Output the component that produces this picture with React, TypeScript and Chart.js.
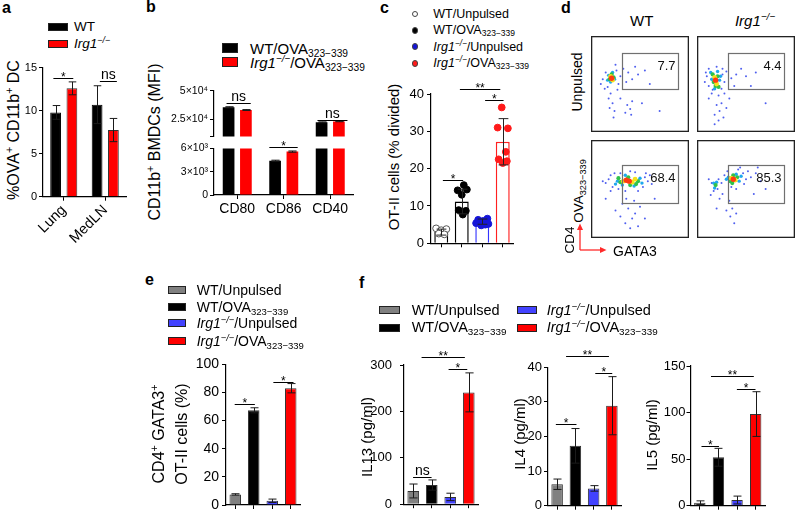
import React, { useEffect, useRef } from 'react';
import { Chart, registerables } from 'chart.js';
Chart.register(...registerables);

const FONT = 'Arial, "Liberation Sans", Helvetica, sans-serif';

// ---------- panel a ----------
const aCategories = ['Lung', 'MedLN'];
const aWT = [9.8, 10.7];
const aWTErr = [0.8, 2.2];
const aKO = [12.6, 7.75];
const aKOErr = [0.75, 1.35];

// ---------- panel b ----------
const bCategories = ['CD80', 'CD86', 'CD40'];
const bWT = [35500, 4420, 22400];
const bWTErr = [500, 70, 400];
const bKO = [33100, 5600, 23200];
const bKOErr = [400, 80, 300];
const bUpperTicks = [10000, 25000, 50000];
const bUpperLabels = ['', '2.5×10⁴', '5×10⁴'];
const bLowerTicks = [0, 3000, 6000];
const bLowerLabels = ['0', '3×10³', '6×10³'];

// ---------- panel c ----------
const cGroups = ['WT/Unpulsed', 'WT/OVA323−339', 'Irg1−/−/Unpulsed', 'Irg1−/−/OVA323−339'];
const cMeans = [3.0, 11.2, 5.8, 27.2];
const cErr = [0.8, 3.3, 0.7, 6.2];
const cPtsWTUnp = [4.0, 3.5, 3.8, 2.6, 2.4];
const cJitWTUnp = [-0.25, 0.0, 0.25, -0.12, 0.15];
const cPtsWTOva = [15.6, 14.2, 14.4, 13.0, 8.9, 8.7, 7.7];
const cJitWTOva = [0.1, -0.2, 0.25, 0.0, -0.15, 0.2, 0.05];
const cPtsKOUnp = [6.6, 6.3, 6.0, 5.4, 5.0, 4.8, 5.2];
const cJitKOUnp = [0.25, -0.2, 0.05, -0.3, 0.15, -0.05, 0.3];
const cPtsKOOva = [36.4, 31.0, 30.8, 24.5, 22.5, 21.5, 22.0];
const cJitKOOva = [-0.05, -0.25, 0.25, 0.15, -0.2, 0.0, 0.2];

// ---------- panel d (x, y in % of plot, density level) ----------
type Pt = [number, number, number];
const dWTUnpulsed: Pt[] = [
  [21, 56, 4], [20, 58, 3], [22, 54, 3], [19, 55, 2], [23, 57, 2], [21, 60, 2], [20, 52, 1], [24, 55, 1], [18, 59, 1], [22, 62, 1], [17, 54, 1],
  [15, 62, 0], [26, 64, 0], [12, 55, 0], [28, 50, 0], [17, 47, 0], [30, 58, 0], [33, 66, 0], [38, 62, 0], [42, 55, 0], [45, 68, 0], [36, 52, 0],
  [25, 70, 0], [10, 50, 0], [14, 45, 0], [27, 44, 0], [20, 40, 0], [22, 30, 0], [19, 25, 0], [24, 22, 0], [37, 28, 0], [40, 24, 0], [35, 20, 0],
  [42, 32, 0], [30, 35, 0], [48, 60, 0], [55, 64, 0], [60, 50, 0], [52, 30, 0], [70, 22, 0], [18, 35, 0], [41, 18, 0], [23, 15, 0],
];
const dKOUnpulsed: Pt[] = [
  [19, 54, 4], [18, 57, 3], [20, 50, 3], [17, 52, 2], [21, 58, 2], [16, 60, 2], [22, 47, 2], [19, 48, 2], [15, 55, 1], [23, 54, 1], [18, 45, 1],
  [14, 62, 1], [21, 63, 1], [24, 58, 1],
  [10, 58, 0], [8, 52, 0], [12, 48, 0], [26, 60, 0], [28, 52, 0], [25, 45, 0], [12, 66, 0], [20, 68, 0], [30, 63, 0], [35, 56, 0], [40, 60, 0],
  [45, 66, 0], [50, 58, 0], [38, 48, 0], [15, 40, 0], [22, 38, 0], [25, 30, 0], [20, 28, 0], [23, 22, 0], [27, 15, 0], [18, 18, 0], [30, 25, 0],
  [55, 48, 0], [60, 62, 0], [33, 35, 0], [12, 35, 0], [70, 30, 0], [26, 66, 0], [16, 44, 0], [28, 40, 0], [22, 12, 0], [18, 8, 0], [9, 62, 0],
];
const dWTOva: Pt[] = [
  [39, 58, 4], [36, 59, 4], [42, 57, 3], [33, 58, 3], [45, 60, 3], [30, 57, 2], [48, 58, 2], [38, 62, 2], [40, 54, 2], [28, 61, 2], [46, 55, 2],
  [27, 58, 1], [50, 61, 1], [35, 64, 1], [44, 53, 1], [25, 55, 1], [52, 56, 1], [32, 54, 1],
  [18, 60, 0], [15, 56, 0], [20, 64, 0], [22, 52, 0], [55, 62, 0], [58, 58, 0], [30, 66, 0], [45, 67, 0], [53, 52, 0], [28, 50, 0], [12, 58, 0],
  [60, 64, 0], [35, 48, 0], [48, 48, 0], [62, 55, 0], [20, 48, 0], [32, 35, 0], [38, 30, 0], [42, 20, 0], [35, 15, 0], [45, 25, 0], [30, 22, 0],
  [50, 32, 0], [40, 10, 0], [25, 28, 0], [48, 12, 0], [55, 20, 0], [65, 40, 0], [15, 40, 0], [24, 66, 0], [40, 68, 0], [56, 66, 0], [36, 40, 0], [44, 38, 0],
];
const dKOOva: Pt[] = [
  [37, 60, 4], [35, 61, 3], [39, 59, 3], [34, 58, 2], [41, 62, 2], [37, 64, 2], [36, 56, 2], [19, 54, 2], [32, 62, 1], [43, 58, 1], [18, 51, 1],
  [20, 57, 1], [30, 60, 1], [45, 63, 1], [40, 65, 1], [17, 56, 1],
  [17, 48, 0], [21, 50, 0], [15, 56, 0], [22, 60, 0], [25, 56, 0], [28, 64, 0], [47, 66, 0], [50, 60, 0], [52, 68, 0], [42, 70, 0], [55, 62, 0],
  [60, 66, 0], [65, 58, 0], [48, 55, 0], [26, 45, 0], [12, 60, 0], [35, 52, 0], [40, 50, 0], [33, 38, 0], [36, 30, 0], [34, 22, 0], [38, 15, 0],
  [30, 28, 0], [40, 25, 0], [20, 30, 0], [70, 50, 0], [58, 45, 0], [14, 44, 0], [23, 40, 0], [44, 72, 0], [62, 72, 0], [31, 68, 0],
];
const dGateTop = [31.5, 89, 45, 82.5];
const dGateBottom = [32, 89, 35.7, 74.2];
const dGateValues = ['7.7', '4.4', '68.4', '85.3'];

// ---------- panel e ----------
const eMeans = [7.5, 67.3, 3.0, 83.0];
const eErr = [0.5, 1.8, 1.2, 3.3];

// ---------- panel f ----------
const il13Means = [28.5, 41.3, 15.7, 241];
const il13Err = [15, 11, 8, 42];
const il4Means = [6.2, 17.3, 5.0, 28.9];
const il4Err = [1.5, 5.0, 0.8, 8.4];
const il5Means = [3.2, 52, 6.1, 98.4];
const il5Err = [2.0, 9.6, 4.2, 24.0];

const GROUP_FILL = ['#808080', '#000000', '#4242ff', '#ff0000'];
const DENS_COLORS = ['rgba(35,55,235,0.8)', '#1fa8ee', '#2fc24a', '#f3e21c', '#ff3b12'];
const DENS_RADIUS = [1.0, 1.7, 2.1, 2.4, 2.7];

type Box = { left: number; top: number; width: number; height: number };
type Plot = { left: number; top: number; right: number; bottom: number };
type Sig = { from: number; to: number; y: number; label: string };

const errorBarPlugin = {
  id: 'errbars',
  afterDatasetsDraw(chart: any) {
    const { ctx } = chart;
    chart.data.datasets.forEach((ds: any, i: number) => {
      if (!ds.errors) return;
      const meta = chart.getDatasetMeta(i);
      const ys = chart.scales[meta.yAxisID];
      meta.data.forEach((el: any, j: number) => {
        const v = ds.data[j];
        const e = ds.errors[j];
        if (v == null || e == null || v < ys.min || v > ys.max) return;
        const x = Math.round(el.x) + 0.5;
        const w = el.width * 0.7;
        const yt = ys.getPixelForValue(v + e);
        const yb = ys.getPixelForValue(v - e);
        ctx.save();
        ctx.strokeStyle = ds.errorColor || '#1a1a1a';
        ctx.lineWidth = 1;
        ctx.beginPath();
        ctx.moveTo(x, yt); ctx.lineTo(x, yb);
        ctx.moveTo(x - w / 2, yt); ctx.lineTo(x + w / 2, yt);
        ctx.moveTo(x - w / 2, yb); ctx.lineTo(x + w / 2, yb);
        ctx.stroke();
        ctx.restore();
      });
    });
  },
};

function sigPlugin(items: Sig[]) {
  return {
    id: 'sig',
    afterDraw(chart: any) {
      const { ctx } = chart;
      const xs = chart.scales.x;
      const ys = chart.scales.y;
      items.forEach((it) => {
        const x1 = xs.getPixelForValue(it.from);
        const x2 = xs.getPixelForValue(it.to);
        const y = Math.round(ys.getPixelForValue(it.y)) + 0.5;
        ctx.save();
        ctx.strokeStyle = '#000';
        ctx.lineWidth = 1;
        ctx.beginPath(); ctx.moveTo(x1, y); ctx.lineTo(x2, y); ctx.stroke();
        ctx.fillStyle = '#000';
        ctx.textAlign = 'center';
        ctx.textBaseline = 'alphabetic';
        if (it.label === 'ns') {
          ctx.font = `14px ${FONT}`;
          ctx.fillText('ns', (x1 + x2) / 2, y - 2.5);
        } else {
          ctx.font = `12px ${FONT}`;
          ctx.fillText(it.label, (x1 + x2) / 2, y + 2);
        }
        ctx.restore();
      });
    },
  };
}

interface BarSpec {
  box: Box; plot: Plot; labels: string[]; datasets: any[];
  yMin: number; yMax: number; yStep?: number; yTicks?: number[]; yTickLabels?: string[];
  tickSize: number; tickPad?: number; xLabelSize?: number; showXLabels?: boolean; rotate?: number; xPad?: number;
  catPct: number; barPct: number; sig: Sig[]; showXAxis?: boolean;
}

function barChart(canvas: HTMLCanvasElement, s: BarSpec) {
  const padTop = s.plot.top - s.box.top;
  const padRight = s.box.left + s.box.width - s.plot.right;
  const yW = s.plot.left - s.box.left;
  const xH = s.box.top + s.box.height - s.plot.bottom;
  const showX = s.showXAxis !== false;
  const yTicks = s.yTicks;
  const yLabels = s.yTickLabels;
  return new Chart(canvas, {
    type: 'bar',
    data: {
      labels: s.labels,
      datasets: s.datasets.map((d) => ({ categoryPercentage: s.catPct, barPercentage: s.barPct, ...d })),
    },
    options: {
      responsive: false,
      animation: false,
      events: [],
      layout: { padding: { top: padTop, right: padRight, left: 0, bottom: 0 } },
      plugins: { legend: { display: false }, tooltip: { enabled: false } },
      scales: {
        x: {
          offset: true,
          grid: { display: showX, offset: false, drawOnChartArea: false, drawTicks: true, tickLength: 4, color: '#000', lineWidth: 1 },
          border: { display: showX, color: '#000', width: 1.2 },
          ticks: {
            display: !!s.showXLabels, autoSkip: false, color: '#000',
            font: { family: FONT, size: s.xLabelSize || 13 },
            maxRotation: s.rotate || 0, minRotation: s.rotate || 0, padding: s.xPad ?? 2,
          },
          afterFit: (sc: any) => { sc.height = xH; },
        },
        y: {
          min: s.yMin,
          max: s.yMax,
          grid: { display: true, drawOnChartArea: false, drawTicks: true, tickLength: 4, color: '#000', lineWidth: 1 },
          border: { display: true, color: '#000', width: 1.2 },
          ticks: {
            stepSize: s.yStep,
            color: '#000',
            padding: s.tickPad ?? 3,
            font: { family: FONT, size: s.tickSize },
            callback: (v: any) => {
              if (yTicks && yLabels) {
                const k = yTicks.indexOf(v);
                return k >= 0 ? yLabels[k] : '';
              }
              return String(v);
            },
          },
          afterBuildTicks: yTicks ? (sc: any) => { sc.ticks = yTicks.map((v) => ({ value: v })); } : undefined,
          afterFit: (sc: any) => { sc.width = yW; },
        },
      },
    } as any,
    plugins: [errorBarPlugin, sigPlugin(s.sig)],
  });
}

function gatePlugin(gate: number[], label: string) {
  return {
    id: 'gate',
    afterDraw(chart: any) {
      const { ctx, chartArea: a } = chart;
      const x = chart.scales.x;
      const y = chart.scales.y;
      const gx1 = Math.round(x.getPixelForValue(gate[0])) + 0.5;
      const gx2 = Math.round(x.getPixelForValue(gate[1])) + 0.5;
      const gy1 = Math.round(y.getPixelForValue(gate[3])) + 0.5;
      const gy2 = Math.round(y.getPixelForValue(gate[2])) + 0.5;
      ctx.save();
      ctx.strokeStyle = '#707070';
      ctx.lineWidth = 1.2;
      ctx.strokeRect(gx1, gy1, gx2 - gx1, gy2 - gy1);
      ctx.fillStyle = '#111';
      ctx.font = `13px ${FONT}`;
      ctx.textAlign = 'right';
      ctx.textBaseline = 'alphabetic';
      ctx.fillText(label, gx2 - 3, gy1 + 16);
      ctx.strokeStyle = '#222';
      ctx.lineWidth = 1.3;
      ctx.strokeRect(a.left + 0.65, a.top + 0.65, a.right - a.left - 1.3, a.bottom - a.top - 1.3);
      ctx.restore();
    },
  };
}

function flowChart(canvas: HTMLCanvasElement, pts: Pt[], gate: number[], label: string) {
  const datasets = [4, 3, 2, 1, 0].map((l) => ({
    type: 'scatter',
    data: pts.filter((p) => p[2] === l).map((p) => ({ x: p[0], y: p[1] })),
    backgroundColor: DENS_COLORS[l],
    borderWidth: 0,
    pointRadius: DENS_RADIUS[l],
  }));
  return new Chart(canvas, {
    type: 'scatter',
    data: { datasets } as any,
    options: {
      responsive: false,
      animation: false,
      events: [],
      layout: { padding: 0 },
      plugins: { legend: { display: false }, tooltip: { enabled: false } },
      scales: {
        x: { type: 'linear', min: 0, max: 100, display: false },
        y: { type: 'linear', min: 0, max: 100, display: false },
      },
    } as any,
    plugins: [gatePlugin(gate, label)],
  });
}

function ChartCanvas({ box, make }: { box: Box; make: (c: HTMLCanvasElement) => Chart }) {
  const ref = useRef<HTMLCanvasElement>(null);
  useEffect(() => {
    const chart = make(ref.current as HTMLCanvasElement);
    return () => chart.destroy();
  }, []);
  return (
    <canvas
      ref={ref}
      width={box.width}
      height={box.height}
      style={{ position: 'absolute', left: box.left, top: box.top, width: box.width, height: box.height }}
    />
  );
}

// ---------- chart makers ----------
const boxA: Box = { left: 0, top: 55, width: 135, height: 200 };
const makeA = (c: HTMLCanvasElement) => barChart(c, {
  box: boxA, plot: { left: 43, top: 67.7, right: 126, bottom: 196.7 },
  labels: aCategories,
  datasets: [
    { data: aWT, errors: aWTErr, backgroundColor: '#000', borderColor: '#000', borderWidth: 1 },
    { data: aKO, errors: aKOErr, backgroundColor: '#ff0000', borderColor: '#333', borderWidth: 1 },
  ],
  yMin: 0, yMax: 15, yStep: 5, tickSize: 11, tickPad: 2, showXLabels: true, xLabelSize: 14.5, rotate: 45, xPad: 1,
  catPct: 0.786, barPct: 0.66,
  sig: [{ from: -0.25, to: 0.23, y: 13.77, label: '*' }, { from: 0.87, to: 1.28, y: 13.45, label: 'ns' }],
});

const boxBU: Box = { left: 165, top: 75, width: 200, height: 72 };
const makeBU = (c: HTMLCanvasElement) => barChart(c, {
  box: boxBU, plot: { left: 214, top: 90.7, right: 353.5, bottom: 136.5 },
  labels: bCategories,
  datasets: [
    { data: bWT, errors: bWTErr, backgroundColor: '#000', borderWidth: 0, clip: 0 },
    { data: bKO, errors: bKOErr, backgroundColor: '#ff0000', borderWidth: 0, clip: 0 },
  ],
  yMin: 10000, yMax: 50000, yTicks: bUpperTicks, yTickLabels: bUpperLabels, tickSize: 10.5, tickPad: 2,
  showXAxis: false, catPct: 0.744, barPct: 0.676,
  sig: [{ from: -0.23, to: 0.29, y: 39000, label: 'ns' }, { from: 1.725, to: 2.37, y: 24600, label: 'ns' }],
});

const boxBL: Box = { left: 165, top: 125, width: 200, height: 95 };
const makeBL = (c: HTMLCanvasElement) => barChart(c, {
  box: boxBL, plot: { left: 214, top: 148.5, right: 353.5, bottom: 195 },
  labels: bCategories,
  datasets: [
    { data: bWT, errors: bWTErr, backgroundColor: '#000', borderWidth: 0, clip: 0 },
    { data: bKO, errors: bKOErr, backgroundColor: '#ff0000', borderWidth: 0, clip: 0 },
  ],
  yMin: 0, yMax: 6000, yTicks: bLowerTicks, yTickLabels: bLowerLabels, tickSize: 10.5, tickPad: 2,
  showXLabels: true, xLabelSize: 14, catPct: 0.744, barPct: 0.676,
  sig: [{ from: 0.69, to: 1.3, y: 6150, label: '*' }],
});

const boxC: Box = { left: 395, top: 70, width: 130, height: 190 };
// jittered dots are placed on the category axis by (fractional) category index
const cScatter = (pts: number[], jit: number[], idx: number, fill: string, stroke: string) => ({
  type: 'scatter', parsing: false, order: 1,
  data: pts.map((v, i) => ({ x: idx + jit[i], y: v })),
  backgroundColor: fill, borderColor: stroke, borderWidth: 1, pointRadius: 3.4,
});
const makeC = (c: HTMLCanvasElement) => barChart(c, {
  box: boxC, plot: { left: 431, top: 94, right: 513, bottom: 243.3 },
  labels: cGroups,
  datasets: [
    { data: cMeans, errors: cErr, order: 2, backgroundColor: '#fff', borderColor: ['#000', '#000', '#3434ff', '#ff2020'], borderWidth: 1.5, errorColor: '#222' },
    cScatter(cPtsWTUnp, cJitWTUnp, 0, '#ffffff', '#555555'),
    cScatter(cPtsWTOva, cJitWTOva, 1, '#000000', '#000000'),
    cScatter(cPtsKOUnp, cJitKOUnp, 2, '#1515d8', '#1515d8'),
    cScatter(cPtsKOOva, cJitKOOva, 3, '#ff1a1a', '#ff1a1a'),
  ],
  yMin: 0, yMax: 40, yStep: 10, tickSize: 13, tickPad: 3, catPct: 1, barPct: 0.68,
  sig: [
    { from: 0.08, to: 1.07, y: 17.0, label: '*' },
    { from: 0.91, to: 2.88, y: 41.3, label: '**' },
    { from: 2.14, to: 3.04, y: 38.4, label: '*' },
  ],
});

const groupBars = (means: number[], errs: number[]) => [
  { data: means, errors: errs, backgroundColor: GROUP_FILL, borderColor: '#333', borderWidth: 1 },
];

const boxE: Box = { left: 188, top: 345, width: 125, height: 175 };
const makeE = (c: HTMLCanvasElement) => barChart(c, {
  box: boxE, plot: { left: 226, top: 364.3, right: 300, bottom: 505 },
  labels: cGroups, datasets: groupBars(eMeans, eErr),
  yMin: 0, yMax: 100, yStep: 20, tickSize: 14, tickPad: 3, catPct: 1, barPct: 0.62,
  sig: [{ from: -0.03, to: 1.06, y: 71.6, label: '*' }, { from: 2.06, to: 3.15, y: 87.6, label: '*' }],
});

const boxIL13: Box = { left: 365, top: 340, width: 120, height: 180 };
const makeIL13 = (c: HTMLCanvasElement) => barChart(c, {
  box: boxIL13, plot: { left: 404, top: 365, right: 478, bottom: 505.7 },
  labels: cGroups, datasets: groupBars(il13Means, il13Err),
  yMin: 0, yMax: 300, yStep: 100, tickSize: 13, tickPad: 8, catPct: 1, barPct: 0.63,
  sig: [
    { from: -0.01, to: 0.99, y: 58.3, label: 'ns' },
    { from: 0.45, to: 2.79, y: 317, label: '**' },
    { from: 1.91, to: 2.92, y: 291, label: '*' },
  ],
});

const boxIL4: Box = { left: 505, top: 340, width: 125, height: 180 };
const makeIL4 = (c: HTMLCanvasElement) => barChart(c, {
  box: boxIL4, plot: { left: 548, top: 367.3, right: 621, bottom: 505.7 },
  labels: cGroups, datasets: groupBars(il4Means, il4Err),
  yMin: 0, yMax: 40, yStep: 10, tickSize: 13, tickPad: 2, catPct: 1, barPct: 0.63,
  sig: [
    { from: -0.07, to: 1.06, y: 23.6, label: '*' },
    { from: 0.49, to: 2.84, y: 43.3, label: '**' },
    { from: 2.09, to: 3.02, y: 38.3, label: '*' },
  ],
});

const boxIL5: Box = { left: 650, top: 340, width: 125, height: 180 };
const makeIL5 = (c: HTMLCanvasElement) => barChart(c, {
  box: boxIL5, plot: { left: 690.5, top: 366, right: 765, bottom: 505.7 },
  labels: cGroups, datasets: groupBars(il5Means, il5Err),
  yMin: 0, yMax: 150, yStep: 50, tickSize: 13, tickPad: 1, catPct: 1, barPct: 0.61,
  sig: [
    { from: 0.09, to: 1.03, y: 64.4, label: '*' },
    { from: 0.6, to: 2.9, y: 139.5, label: '**' },
    { from: 1.99, to: 2.99, y: 124.9, label: '*' },
  ],
});

const dBoxes: Box[] = [
  { left: 587, top: 32, width: 106, height: 104 },
  { left: 693, top: 32, width: 106, height: 104 },
  { left: 587, top: 136, width: 106, height: 106 },
  { left: 693, top: 136, width: 106, height: 106 },
];
const dData = [dWTUnpulsed, dKOUnpulsed, dWTOva, dKOOva];

// ---------- text helpers ----------
const Sub = ({ t }: { t: string }) => (
  <sub style={{ fontSize: '0.68em', verticalAlign: '-0.3em', lineHeight: 0 }}>{t}</sub>
);
const Sup = ({ t, italic }: { t: string; italic?: boolean }) => (
  <sup style={{ fontSize: '0.66em', verticalAlign: '0.55em', lineHeight: 0, fontStyle: italic ? 'italic' : 'normal' }}>{t}</sup>
);
const Irg = () => (<><i>Irg1</i><Sup t="−/−" italic /></>);
const Ova = () => (<>OVA<Sub t="323−339" /></>);

function Txt({ x, y, size, children, bold, align, rotate }: any) {
  const style: React.CSSProperties = {
    position: 'absolute', left: x, top: y, fontSize: size, lineHeight: 1, whiteSpace: 'nowrap',
    fontWeight: bold ? 'bold' : 'normal',
    transform: rotate ? 'translate(-50%,-50%) rotate(-90deg)' : align === 'center' ? 'translate(-50%,-50%)' : 'translateY(-50%)',
  };
  return <div style={style}>{children}</div>;
}

function Swatch({ x, y, w, h, color, circle }: any) {
  return (
    <div style={{
      position: 'absolute', left: x, top: y, width: w, height: h, background: color,
      border: circle ? '1px solid #444' : '1px solid #222', boxSizing: 'border-box', borderRadius: circle ? '50%' : 0,
    }} />
  );
}

export default function App() {
  return (
    <div style={{ position: 'fixed', left: 0, top: 0, width: 800, height: 511, background: '#fff', overflow: 'hidden', fontFamily: FONT, color: '#000' }}>
      {/* panel letters */}
      <Txt x={2} y={7.8} size={16} bold>a</Txt>
      <Txt x={146} y={6.5} size={16} bold>b</Txt>
      <Txt x={380} y={7.8} size={16} bold>c</Txt>
      <Txt x={561} y={7.8} size={16} bold>d</Txt>
      <Txt x={145} y={279.5} size={16} bold>e</Txt>
      <Txt x={359} y={282.5} size={16} bold>f</Txt>

      {/* panel a */}
      <Swatch x={47.7} y={22.7} w={20.5} h={8} color="#000" />
      <Txt x={74} y={26.7} size={13.5}>WT</Txt>
      <Swatch x={47.7} y={39.8} w={20.5} h={8.5} color="#ff0000" />
      <Txt x={74} y={44} size={13.5}><Irg /></Txt>
      <Txt x={14} y={130} size={16} rotate>%OVA<Sup t="+" /> CD11b<Sup t="+" /> DC</Txt>
      <ChartCanvas box={boxA} make={makeA} />

      {/* panel b */}
      <Swatch x={221.7} y={42.7} w={16.6} h={10} color="#000" />
      <Txt x={250} y={47.7} size={15}>WT/<Ova /></Txt>
      <Swatch x={221.7} y={57.3} w={16.6} h={9.4} color="#ff0000" />
      <Txt x={250} y={62} size={15}><Irg />/<Ova /></Txt>
      <Txt x={155} y={142} size={16} rotate>CD11b<Sup t="+" /> BMDCs (MFI)</Txt>
      <ChartCanvas box={boxBU} make={makeBU} />
      <ChartCanvas box={boxBL} make={makeBL} />

      {/* panel c */}
      <Swatch x={411.7} y={10.7} w={6.6} h={6.6} color="#fff" circle />
      <Txt x={433.3} y={14} size={12.5}>WT/Unpulsed</Txt>
      <Swatch x={411.7} y={27} w={6.6} h={6.6} color="#000" circle />
      <Txt x={433.3} y={30} size={12.5}>WT/<Ova /></Txt>
      <Swatch x={411.7} y={43} w={6.6} h={6.6} color="#1515d8" circle />
      <Txt x={433.3} y={46.5} size={12.5}><Irg />/Unpulsed</Txt>
      <Swatch x={411.7} y={60} w={6.6} h={6.6} color="#ff1a1a" circle />
      <Txt x={433.3} y={63} size={12.5}><Irg />/<Ova /></Txt>
      <Txt x={392.5} y={157} size={15} rotate>OT-II cells (% divided)</Txt>
      <ChartCanvas box={boxC} make={makeC} />

      {/* panel d */}
      <Txt x={641.7} y={20} size={15} align="center">WT</Txt>
      <Txt x={755} y={20} size={15} align="center"><Irg /></Txt>
      <Txt x={577} y={82} size={14} rotate>Unpulsed</Txt>
      <Txt x={578.5} y={191} size={13.5} rotate><Ova /></Txt>
      {dBoxes.map((b, i) => (
        <ChartCanvas key={i} box={b} make={(c) => flowChart(c, dData[i], i < 2 ? dGateTop : dGateBottom, dGateValues[i])} />
      ))}
      <svg style={{ position: 'absolute', left: 0, top: 0 }} width={800} height={511}>
        <line x1={580} y1={250} x2={580} y2={229} stroke="#ff2a2a" strokeWidth={1.3} />
        <polygon points="577,230 583,230 580,223.5" fill="#ff2a2a" />
        <line x1={580} y1={250} x2={601} y2={250} stroke="#ff2a2a" strokeWidth={1.3} />
        <polygon points="600,247 600,253 606.5,250" fill="#ff2a2a" />
      </svg>
      <Txt x={570} y={240} size={13.5} rotate>CD4</Txt>
      <Txt x={613} y={251} size={14}>GATA3</Txt>

      {/* panel e */}
      <Swatch x={168.3} y={285.5} w={17.4} h={8} color={GROUP_FILL[0]} />
      <Txt x={196.7} y={289.5} size={14}>WT/Unpulsed</Txt>
      <Swatch x={168.3} y={302.5} w={17.4} h={8} color={GROUP_FILL[1]} />
      <Txt x={196.7} y={306.5} size={14}>WT/<Ova /></Txt>
      <Swatch x={168.3} y={319} w={17.4} h={8} color={GROUP_FILL[2]} />
      <Txt x={196.7} y={323} size={14}><Irg />/Unpulsed</Txt>
      <Swatch x={168.3} y={337} w={17.4} h={8} color={GROUP_FILL[3]} />
      <Txt x={196.7} y={341} size={14}><Irg />/<Ova /></Txt>
      <div style={{ position: 'absolute', left: 170, top: 434, transform: 'translate(-50%,-50%) rotate(-90deg)', fontSize: 16, lineHeight: '23px', whiteSpace: 'nowrap', textAlign: 'center' }}>
        CD4<Sup t="+" /> GATA3<Sup t="+" /><br />OT-II cells (%)
      </div>
      <ChartCanvas box={boxE} make={makeE} />

      {/* panel f */}
      <Swatch x={379} y={306} w={21} h={8} color={GROUP_FILL[0]} />
      <Txt x={411.7} y={310} size={14.5}>WT/Unpulsed</Txt>
      <Swatch x={379} y={324} w={21} h={8} color={GROUP_FILL[1]} />
      <Txt x={411.7} y={327} size={14.5}>WT/<Ova /></Txt>
      <Swatch x={517} y={306} w={20} h={8} color={GROUP_FILL[2]} />
      <Txt x={546.7} y={310} size={14.5}><Irg />/Unpulsed</Txt>
      <Swatch x={517} y={324} w={20} h={8} color={GROUP_FILL[3]} />
      <Txt x={546.7} y={327} size={14.5}><Irg />/<Ova /></Txt>
      <Txt x={366} y={437} size={15} rotate>IL13 (pg/ml)</Txt>
      <Txt x={519} y={434} size={15} rotate>IL4 (pg/ml)</Txt>
      <Txt x={651} y={435} size={15} rotate>IL5 (pg/ml)</Txt>
      <ChartCanvas box={boxIL13} make={makeIL13} />
      <ChartCanvas box={boxIL4} make={makeIL4} />
      <ChartCanvas box={boxIL5} make={makeIL5} />
    </div>
  );
}
